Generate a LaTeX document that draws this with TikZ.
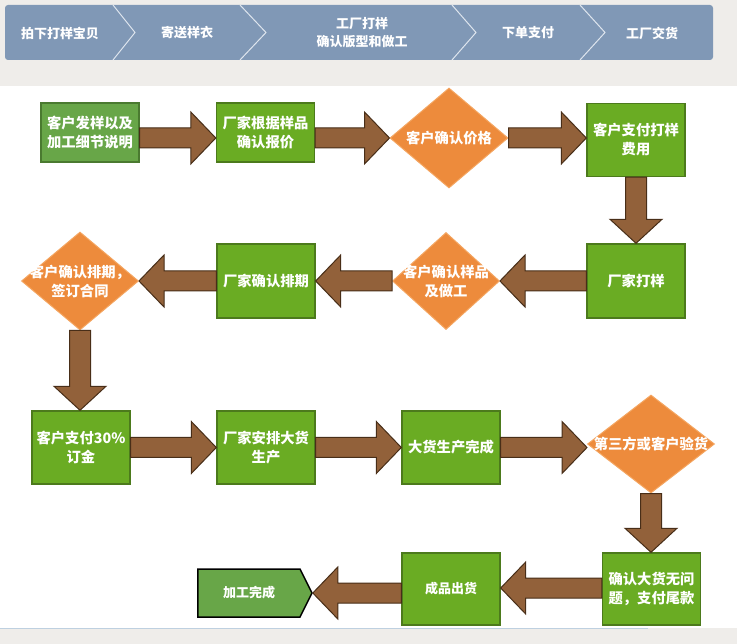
\documentclass[tikz,border=0pt]{standalone}
\usepackage{fontspec}
\setmainfont{Noto Sans CJK SC}
\usetikzlibrary{shapes.geometric,shapes.symbols,calc}
\definecolor{bgc}{RGB}{239,237,234}
\definecolor{bannerc}{RGB}{128,152,182}
\definecolor{chevc}{RGB}{222,229,238}
\definecolor{linec}{RGB}{190,208,224}
\definecolor{greenf}{RGB}{106,172,35}
\definecolor{greend}{RGB}{76,122,28}
\definecolor{dullf}{RGB}{104,166,72}
\definecolor{dulld}{RGB}{74,122,48}
\definecolor{orangef}{RGB}{237,139,60}
\definecolor{oranged}{RGB}{244,165,96}
\definecolor{brownf}{RGB}{146,97,58}
\definecolor{brownd}{RGB}{72,46,24}
\tikzset{
  gbox/.style={draw=greend, fill=greenf, line width=1.4pt, minimum width=98, minimum height=73,
     inner sep=0pt, align=center, text=white, font=\fontsize{14.3}{19}\selectfont\bfseries},
  dia/.style={diamond, draw=oranged, fill=orangef, line width=1pt, inner sep=0pt, aspect=1.2},
  dtxt/.style={inner sep=0pt, align=center, text=white, font=\fontsize{14.3}{19}\selectfont\bfseries},
  btxt/.style={inner sep=0pt, align=center, text=white, font=\fontsize{13}{18}\selectfont\bfseries},
  barrow/.style={draw=brownd, fill=brownf, line width=1pt, line join=miter},
  chev/.style={draw=chevc, line width=1pt}
}
\newcommand\BArR[2]{\draw[barrow] let \p1=#1, \p2=#2 in
  (\x1,\y1+10pt) -- (\x2-25pt,\y1+10pt) -- (\x2-25pt,\y1+26pt) -- (\x2,\y1) --
  (\x2-25pt,\y1-26pt) -- (\x2-25pt,\y1-10pt) -- (\x1,\y1-10pt) -- cycle;}
\newcommand\BArL[2]{\draw[barrow] let \p1=#1, \p2=#2 in
  (\x1,\y1+10pt) -- (\x2+25pt,\y1+10pt) -- (\x2+25pt,\y1+26pt) -- (\x2,\y1) --
  (\x2+25pt,\y1-26pt) -- (\x2+25pt,\y1-10pt) -- (\x1,\y1-10pt) -- cycle;}
\newcommand\BArD[2]{\draw[barrow] let \p1=#1, \p2=#2 in
  (\x1-10.5pt,\y1) -- (\x1-10.5pt,\y2+24pt) -- (\x1-26pt,\y2+24pt) -- (\x1,\y2) --
  (\x1+26pt,\y2+24pt) -- (\x1+10.5pt,\y2+24pt) -- (\x1+10.5pt,\y1) -- cycle;}
\begin{document}
\begin{tikzpicture}[x=1pt,y=-1pt]
\useasboundingbox (0,0) rectangle (737,644);
\fill[bgc] (0,0) rectangle (737,644);
\fill[white] (0,86) rectangle (737,628);
\draw[linec, line width=1pt] (0,628) -- (648,628);
% banner
\fill[bannerc, rounded corners=3pt] (5,5) rectangle (713,60);
\draw[chev] (113,5) -- (135,32.5) -- (113,60);
\draw[chev] (240,5) -- (266,32.5) -- (240,60);
\draw[chev] (452,5) -- (476,32.5) -- (452,60);
\draw[chev] (580,5) -- (605,32.5) -- (580,60);
\node[btxt] (s1) at (60,33) {拍下打样宝贝};
\node[btxt] (s2) at (187,33) {寄送样衣};
\node[btxt] (s3) at (362,33) {工厂打样\\确认版型和做工};
\node[btxt] (s4) at (528,33) {下单支付};
\node[btxt] (s5) at (652,33) {工厂交货};
% row 1
\node[gbox, fill=dullf, draw=dulld, minimum height=59] (A) at (90,132.5) {客户发样以及\\加工细节说明};
\node[gbox, minimum height=59] (B) at (265.5,132.5) {厂家根据样品\\确认报价};
\node[dia, minimum width=118, minimum height=100] (C) at (449,138) {};
\node[dtxt] (Ct) at (C) {客户确认价格};
\node[gbox] (D) at (636,140) {客户支付打样\\费用};
% row 2
\node[gbox, minimum height=74] (E) at (636,281) {厂家打样};
\node[dia, minimum width=107, minimum height=97] (F) at (446,281) {};
\node[dtxt] (Ft) at (F) {客户确认样品\\及做工};
\node[gbox, minimum height=74] (G) at (266,281) {厂家确认排期};
\node[dia, minimum width=117, minimum height=98] (H) at (80,281) {};
\node[dtxt] (Ht) at (H) {客户确认排期，\\签订合同};
% row 3
\node[gbox] (I) at (81,447.5) {客户支付30\%\\订金};
\node[gbox] (J) at (266,447.5) {厂家安排大货\\生产};
\node[gbox] (K) at (451,447.5) {大货生产完成};
\node[dia, minimum width=127, minimum height=98] (L) at (651,444) {};
\node[dtxt] (Lt) at (L) {第三方或客户验货};
% row 4
\node[gbox, minimum height=72] (M) at (651.5,589) {确认大货无问\\题，支付尾款};
\node[gbox, minimum height=72, font=\fontsize{13}{18}\selectfont\bfseries] (N) at (451,589) {成品出货};
\node[signal, signal to=east, signal pointer angle=127, draw=black, fill=dullf, line width=1.5pt,
  minimum width=114, minimum height=48, inner sep=0pt, text=white,
  font=\fontsize{13}{18}\selectfont\bfseries] (O) at (249,593) {加工完成};
% arrows
\BArR{(A.east |- C.center)}{(B.west |- C.center)}
\BArR{(B.east |- C.center)}{(C.west)}
\BArR{(C.east)}{(D.west |- C.center)}
\BArD{(D.south)}{(E.north)}
\BArL{(E.west |- F.center)}{(F.east)}
\BArL{(F.west)}{(G.east |- F.center)}
\BArL{(G.west |- H.center)}{(H.east)}
\BArD{(H.south)}{(I.north -| H.south)}
\BArR{(I.east)}{(J.west)}
\BArR{(J.east)}{(K.west)}
\BArR{(K.east)}{(L.west |- K.east)}
\BArD{(L.south)}{(M.north -| L.south)}
\BArL{(M.west |- 0,588)}{(N.east |- 0,588)}
\BArL{(N.west |- O.east)}{(O.east)}
\end{tikzpicture}
\end{document}
